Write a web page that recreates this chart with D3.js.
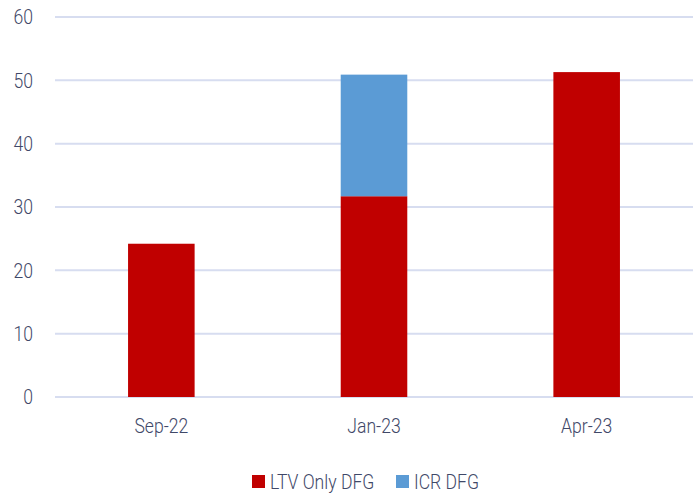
<!DOCTYPE html>
<html>
<head>
<meta charset="utf-8">
<script src="https://cdn.jsdelivr.net/npm/d3@7"></script>
<style>
  body { margin: 0; background: #fff; }
  text { font-family: Roboto, "Liberation Sans", sans-serif; font-weight: 300; fill: #3f4868; }
</style>
</head>
<body>
<svg id="chart"></svg>
<script>
const categories = ["Sep-22", "Jan-23", "Apr-23"];
const ltvOnly = [24.2, 31.7, 51.3];
const icr = [0, 19.2, 0];
const yTicks = [0, 10, 20, 30, 40, 50, 60];
const seriesNames = ["LTV Only DFG", "ICR DFG"];
const colors = ["#c00000", "#5b9bd5"];

const svgWidth = 698;
const svgHeight = 493;
const margin = { top: 17, right: 5, bottom: 96, left: 55 };
const width = svgWidth - margin.left - margin.right;
const height = svgHeight - margin.top - margin.bottom;
const squeeze = 0.88; // the original font is a narrow one

const svg = d3.select("#chart")
  .attr("width", svgWidth)
  .attr("height", svgHeight);

const g = svg.append("g")
  .attr("transform", `translate(${margin.left},${margin.top})`);

const xScale = d3.scaleBand()
  .domain(categories)
  .range([0, width])
  .paddingInner(0.687)
  .paddingOuter(0.3435);

const yScale = d3.scaleLinear()
  .domain([0, 60])
  .range([height, 0]);

// gridlines
g.selectAll(".grid")
  .data(yTicks)
  .enter()
  .append("line")
  .attr("x1", 0)
  .attr("x2", width)
  .attr("y1", d => yScale(d))
  .attr("y2", d => yScale(d))
  .attr("stroke", "#d7ddf0")
  .attr("stroke-width", 2);

// y labels
g.selectAll(".ylabel")
  .data(yTicks)
  .enter()
  .append("text")
  .attr("transform", d => `translate(-22,${yScale(d)}) scale(${squeeze},1)`)
  .attr("dy", "0.36em")
  .attr("text-anchor", "end")
  .attr("font-size", "20px")
  .text(d => d);

const data = categories.map((c, i) => ({ cat: c, ltv: ltvOnly[i], icr: icr[i] }));
const stacked = d3.stack().keys(["ltv", "icr"])(data);

g.selectAll(".series")
  .data(stacked)
  .enter()
  .append("g")
  .attr("fill", (d, i) => colors[i])
  .selectAll("rect")
  .data(d => d.filter(p => p[1] - p[0] > 0))
  .enter()
  .append("rect")
  .attr("x", d => xScale(d.data.cat))
  .attr("y", d => yScale(d[1]))
  .attr("width", xScale.bandwidth())
  .attr("height", d => yScale(d[0]) - yScale(d[1]));

// x labels
g.selectAll(".xlabel")
  .data(categories)
  .enter()
  .append("text")
  .attr("transform", d => `translate(${xScale(d) + xScale.bandwidth() / 2},${height + 36}) scale(${squeeze},1)`)
  .attr("text-anchor", "middle")
  .attr("font-size", "20px")
  .text(d => d);

// legend
const legendX = [252, 396];
const legend = svg.selectAll(".legend")
  .data(seriesNames)
  .enter()
  .append("g")
  .attr("transform", (d, i) => `translate(${legendX[i]},475)`);

legend.append("rect")
  .attr("width", 13)
  .attr("height", 13)
  .attr("fill", (d, i) => colors[i]);

legend.append("text")
  .attr("transform", `translate(18,6.5) scale(${squeeze},1)`)
  .attr("dy", "0.36em")
  .attr("font-size", "20px")
  .text(d => d);
</script>
</body>
</html>
